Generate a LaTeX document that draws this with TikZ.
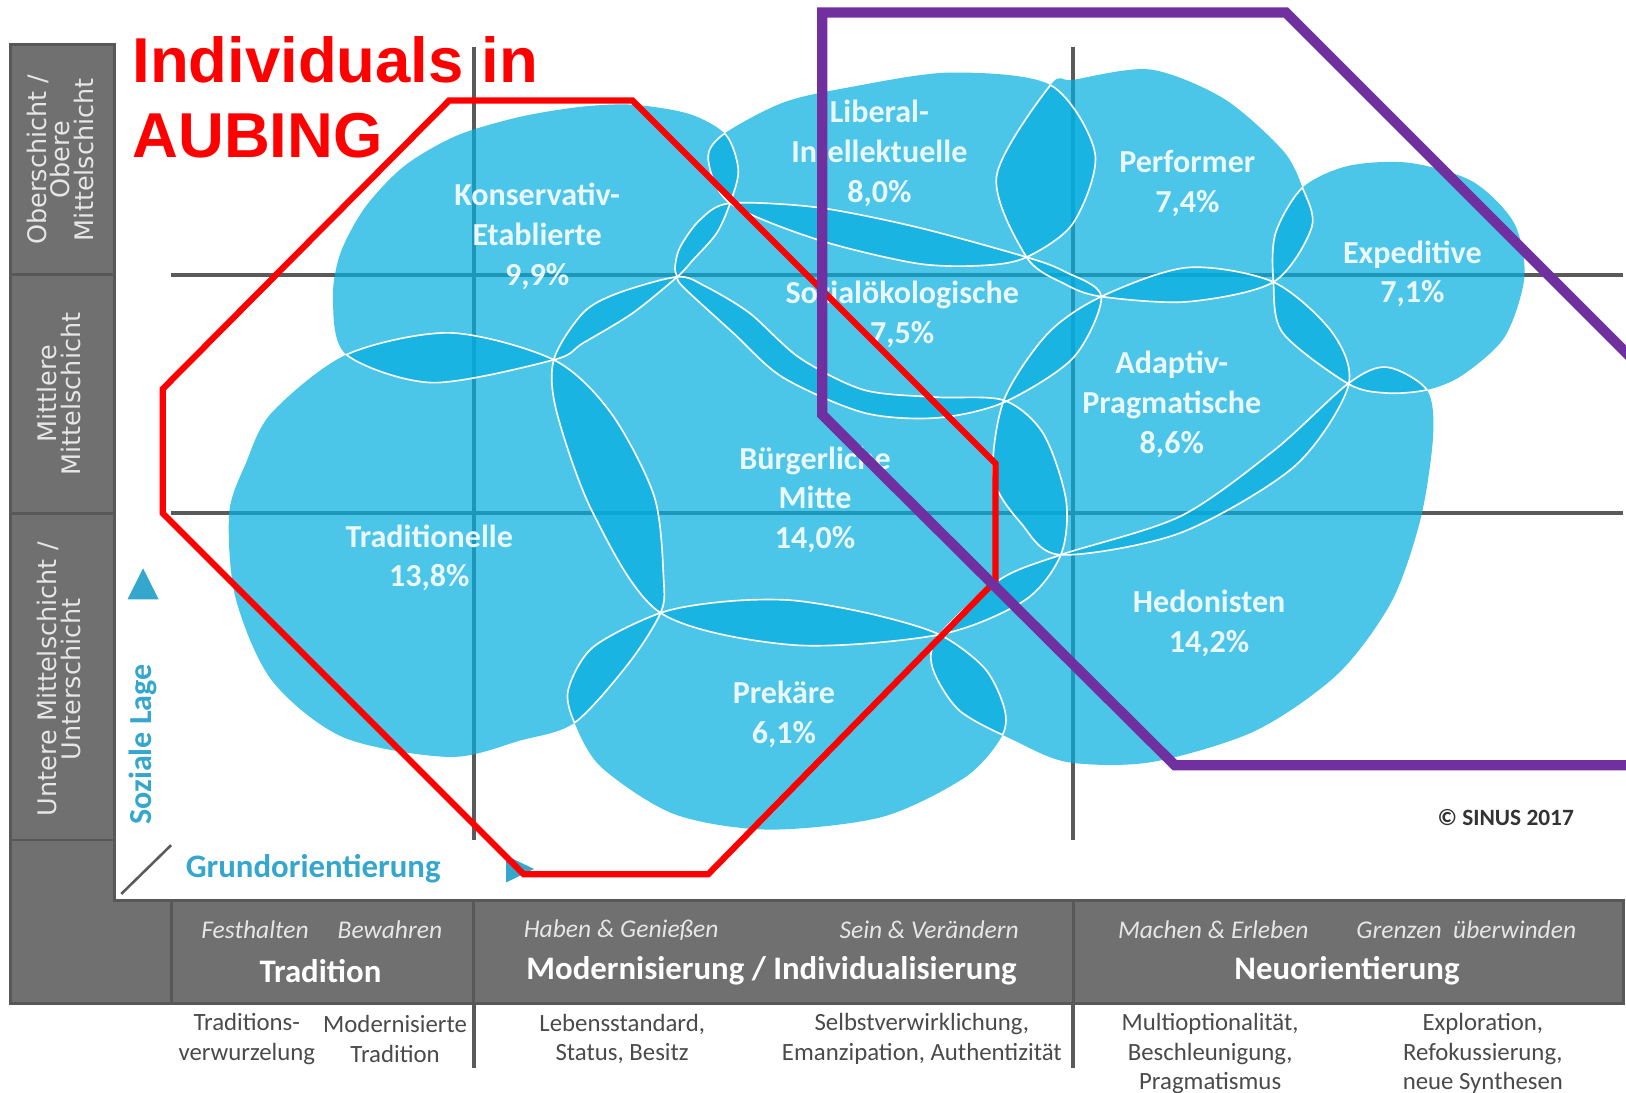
\documentclass[tikz,border=0pt]{standalone}
\usepackage{fontspec}
\setmainfont{Carlito}
\newfontfamily\barfont{DejaVu Sans}
\newfontfamily\titlefont{Liberation Sans}

\definecolor{barfill}{HTML}{707070}
\definecolor{barline}{HTML}{585858}
\definecolor{bartext}{HTML}{E6E6E6}
\definecolor{gridgray}{HTML}{5A5A5A}
\definecolor{milieublue}{HTML}{05AEDF}
\definecolor{labelwhite}{HTML}{EAF7FC}
\definecolor{tealtext}{HTML}{35A7CC}
\definecolor{notegray}{HTML}{4A4A4A}
\definecolor{aubingred}{HTML}{FF0000}
\definecolor{aubingpurple}{HTML}{7030A0}

\tikzset{
  blob/.style={fill=milieublue, fill opacity=0.72},
  blobline/.style={draw=white, line width=0.45pt},
  gridline/.style={draw=gridgray, line width=1.1pt},
  barbox/.style={fill=barfill, draw=barline, line width=0.8pt},
  bartxt/.style={rotate=90, text=bartext, align=center,
    font=\barfont\fontsize{7}{6.4}\selectfont},
  milieu/.style={text=labelwhite, align=center,
    font=\fontsize{8.8}{10.9}\selectfont\bfseries},
  orient/.style={text=bartext, font=\fontsize{7}{8}\selectfont\itshape},
  head/.style={text=white, font=\fontsize{9}{10}\selectfont\bfseries},
  note/.style={text=notegray, align=center, font=\fontsize{6.8}{8.1}\selectfont},
}

% outlines of the milieus
\newcommand{\pathKE}{plot[smooth cycle] coordinates {(534,347) (562,331) (610,302) (653,267) (668,251) (691,225) (704,196) (712,164) (700,130) (665,110) (611,101) (560,103) (500,113) (440,131) (390,160) (352,200) (328,245) (321,290) (334,342) (417,369)}}
\newcommand{\pathLib}{plot[smooth cycle] coordinates {(697,130) (755,99) (820,84) (916,70) (1013,82) (1056,148) (1035,215) (990,248) (948,256) (884,254) (788,231) (704,196) (683,154)}}
\newcommand{\pathPerf}{plot[smooth cycle] coordinates {(1013,82) (961,170) (990,248) (1027,274) (1062,286) (1145,291) (1228,272) (1265,219) (1256,181) (1237,145) (1180,95) (1109,67) (1035,77)}}
\newcommand{\pathExp}{plot[smooth cycle] coordinates {(1228,272) (1230,225) (1256,181) (1300,160) (1359,157) (1420,175) (1460,215) (1470,267) (1451,325) (1410,362) (1376,376) (1337,379) (1300,370) (1237,321)}}
\newcommand{\pathSoe}{plot[smooth cycle] coordinates {(704,196) (788,200) (884,219) (990,248) (1027,262) (1062,286) (1035,345) (968,388) (903,403) (833,398) (755,364) (707,321) (659,277) (653,267) (651,257) (656,238) (675,212)}}
\newcommand{\pathAP}{plot[smooth cycle] coordinates {(1062,286) (1145,258) (1228,272) (1285,321) (1300,373) (1248,450) (1138,514) (1023,535) (985,505) (958,460) (968,386) (1010,322)}}
\newcommand{\pathBM}{plot[smooth cycle] coordinates {(534,347) (562,302) (595,283) (653,267) (680,276) (723,302) (771,345) (833,376) (903,383) (968,386) (1006,418) (1028,482) (1023,535) (988,579) (906,612) (765,622) (637,591) (572,495) (537,398)}}
\newcommand{\pathTrad}{plot[smooth cycle] coordinates {(534,347) (589,398) (631,479) (640,559) (637,591) (606,640) (554,697) (502,714) (434,730) (331,711) (262,656) (227,576) (221,495) (237,447) (262,398) (334,342) (434,321)}}
\newcommand{\pathPrek}{plot[smooth cycle] coordinates {(637,591) (700,580) (765,579) (840,592) (906,612) (950,645) (969,685) (965,712) (930,750) (850,788) (740,800) (650,785) (580,740) (554,697) (548,665) (572,624)}}
\newcommand{\pathHed}{plot[smooth cycle] coordinates {(906,612) (964,559) (1023,535) (1138,498) (1229,434) (1300,370) (1337,354) (1376,376) (1382,420) (1370,500) (1342,580) (1290,650) (1210,705) (1110,735) (1030,735) (978,714) (925,685) (899,643)}}

% edge of milieu #1 where it lies inside milieu #2
\newcommand{\edgein}[2]{%
  \begin{scope}[blobline]
    \expandafter\clip\csname path#2\endcsname;
    \expandafter\draw\csname path#1\endcsname;
  \end{scope}}

\begin{document}
\begin{tikzpicture}[x=0.01cm, y=-0.01cm]
\useasboundingbox (0,0) rectangle (1568,1054);

% grid
\draw[gridline] (165,265) -- (1565,265);
\draw[gridline] (165,495) -- (1565,495);
\draw[gridline] (457,45) -- (457,810);
\draw[gridline] (1035,45) -- (1035,810);
\draw[gridline] (457,968) -- (457,1030);
\draw[gridline] (1035,968) -- (1035,1030);

% milieus
\foreach \m in {KE,Lib,Perf,Exp,Soe,AP,BM,Trad,Prek,Hed}
  {\expandafter\fill\csname path\m\endcsname [blob];}
\foreach \a/\b in {KE/Trad,KE/BM,KE/Soe,KE/Lib,Lib/Soe,Lib/Perf,Perf/Soe,Perf/AP,
    Perf/Exp,Exp/AP,Exp/Hed,AP/Soe,AP/BM,AP/Hed,BM/Soe,BM/Trad,BM/Prek,BM/Hed,
    Trad/Prek,Prek/Hed}
  {\edgein{\a}{\b}\edgein{\b}{\a}}

\node[milieu] (ke) at (518,228) {Konservativ-\\Etablierte\\9,9\%};
\node[milieu] (lib) at (848,148) {Liberal-\\Intellektuelle\\8,0\%};
\node[milieu] (perf) at (1145,177) {Performer\\7,4\%};
\node[milieu] (exp) at (1362,264) {Expeditive\\7,1\%};
\node[milieu] (soe) at (870,303) {Sozialökologische\\7,5\%};
\node[milieu] (ap) at (1130,390) {Adaptiv-\\Pragmatische\\8,6\%};
\node[milieu] (bm) at (786,482) {Bürgerliche\\Mitte\\14,0\%};
\node[milieu] (trad) at (414,538) {Traditionelle\\13,8\%};
\node[milieu] (hed) at (1166,601) {Hedonisten\\14,2\%};
\node[milieu] (prek) at (756,689) {Prekäre\\6,1\%};

% axes
\draw[barbox] (10,43) rectangle (110,265);
\draw[barbox] (10,265) rectangle (110,495);
\draw[barbox] (10,495) rectangle (110,810);
\draw[barbox] (10,810) -- (110,810) -- (110,868) -- (165,868) -- (165,968) -- (10,968) -- cycle;
\draw[barbox] (165,868) rectangle (457,968);
\draw[barbox] (457,868) rectangle (1035,968);
\draw[barbox] (1035,868) rectangle (1566,968);
\draw[draw=gridgray, line width=0.7pt] (117,862) -- (165,815);

\node[bartxt] (ober) at (58,154) {Oberschicht /\\Obere\\Mittelschicht};
\node[bartxt] (mittel) at (57,380) {Mittlere\\Mittelschicht};
\node[bartxt] (unter) at (57,655) {Untere Mittelschicht /\\Unterschicht};

\fill[tealtext] (123,578) -- (153,578) -- (138,548) -- cycle;
\node[rotate=90, text=tealtext, font=\fontsize{8.8}{10}\selectfont\bfseries] (lage) at (138,718) {Soziale Lage};
\node[text=tealtext, font=\fontsize{9}{10}\selectfont\bfseries] (grund) at (302,838) {Grundorientierung};
\fill[tealtext] (488,825) -- (488,851) -- (515,838) -- cycle;
\node[text=black!80, font=\fontsize{6.4}{7}\selectfont\bfseries] (copy) at (1452,788) {© SINUS 2017};

\node[orient] (o1) at (246,897) {Festhalten};
\node[orient] (o2) at (376,897) {Bewahren};
\node[orient] (o3) at (599,897) {Haben \& Genießen};
\node[orient] (o4) at (896,897) {Sein \& Verändern};
\node[orient] (o5) at (1170,897) {Machen \& Erleben};
\node[orient] (o6) at (1414,897) {Grenzen\ \ überwinden};
\node[head] (tradhd) at (309,936) {Tradition};
\node[head] (modhd) at (744,936) {Modernisierung / Individualisierung};
\node[head] (neuhd) at (1299,936) {Neuorientierung};

\node[note] (n1) at (238,1002) {Traditions-\\verwurzelung};
\node[note] (n2) at (381,1002) {Modernisierte\\Tradition};
\node[note] (n3) at (600,1002) {Lebensstandard,\\Status, Besitz};
\node[note] (n4) at (889,1002) {Selbstverwirklichung,\\Emanzipation, Authentizität};
\node[note] (n5) at (1167,1016) {Multioptionalität,\\Beschleunigung,\\Pragmatismus};
\node[note] (n6) at (1430,1016) {Exploration,\\Refokussierung,\\neue Synthesen};

% Aubing outlines
\draw[aubingred, line width=1.7pt] (433,97) -- (610,97) -- (960,447) -- (960,560) -- (683,843) -- (505,843) -- (157,495) -- (157,375) -- cycle;
\draw[aubingpurple, line width=2.8pt] (1600,372) -- (1240,12) -- (793,12) -- (793,400) -- (1133,738) -- (1600,738);

\node[anchor=base west, text=aubingred, font=\titlefont\fontsize{17.4}{20.5}\selectfont\bfseries, inner sep=0pt] (title1) at (127,80) {Individuals in};
\node[anchor=base west, text=aubingred, font=\titlefont\fontsize{17.4}{20.5}\selectfont\bfseries, inner sep=0pt] (title2) at (127,152) {AUBING};
\end{tikzpicture}
\end{document}
